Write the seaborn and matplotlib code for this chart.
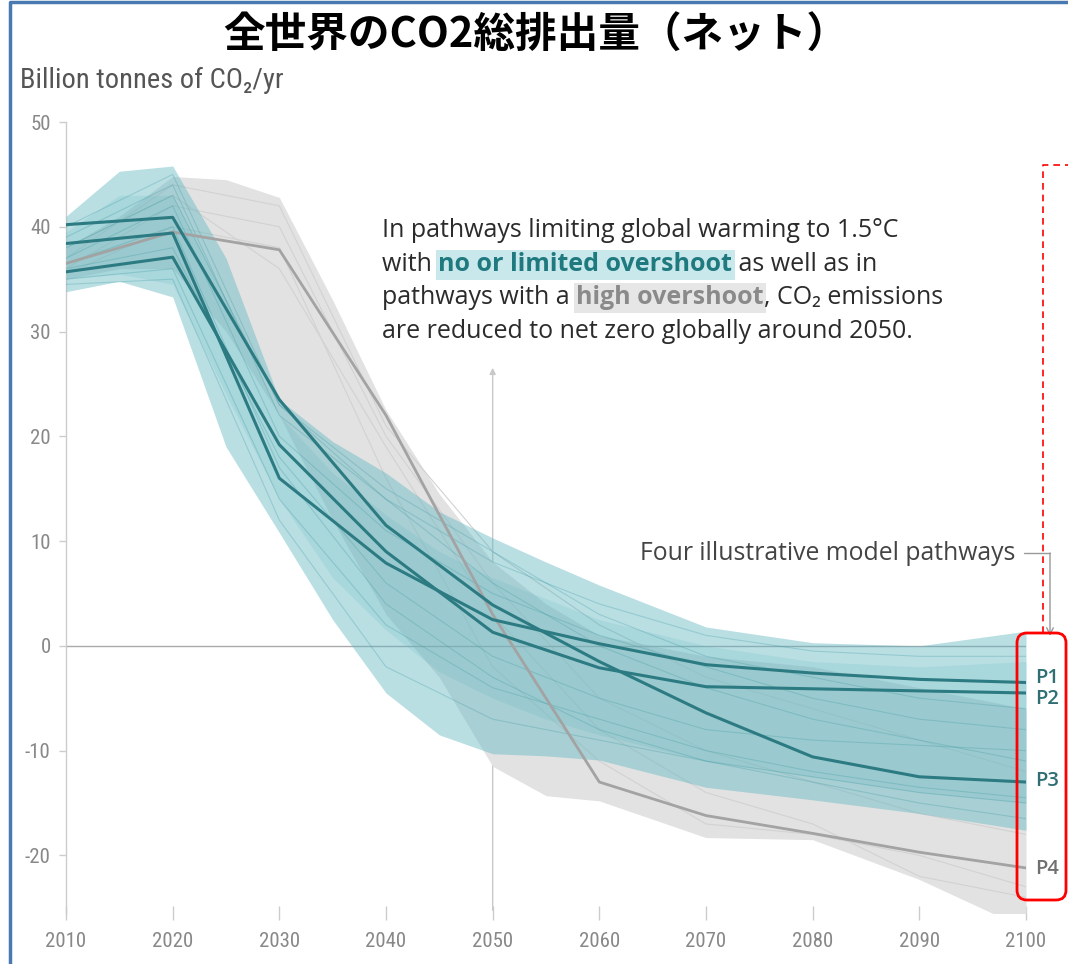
import numpy as np
import pandas as pd
import matplotlib
matplotlib.use('Agg')
import matplotlib.pyplot as plt
import seaborn as sns
from matplotlib.patches import FancyBboxPatch
from matplotlib.lines import Line2D
from matplotlib.transforms import IdentityTransform

# ---- data (billion tonnes CO2 / yr) ----
band_years = [2010, 2015, 2020, 2025, 2030, 2035, 2040, 2045, 2050, 2055, 2060, 2070, 2080, 2090, 2100]
# no or limited overshoot range (teal)
teal_hi = [41.0, 45.3, 45.8, 37.0, 23.5, 19.5, 16.5, 12.8, 10.3, 8.0, 5.8, 1.8, 0.3, 0.0, 1.4]
teal_lo = [33.8, 34.8, 33.3, 19.0, 10.8, 2.5, -4.5, -8.5, -10.3, -10.5, -10.9, -13.5, -14.7, -16.0, -17.6]
teal_core_hi = [39.5, 43.0, 43.0, 33.0, 22.0, 16.5, 12.5, 9.0, 6.5, 4.5, 2.5, 0.0, -1.5, -2.0, -1.5]
teal_core_lo = [35.0, 35.5, 34.5, 24.0, 14.0, 6.5, 1.5, -2.5, -5.0, -7.0, -8.5, -11.0, -12.5, -14.0, -15.0]
# high overshoot range (grey)
grey_hi = [38.0, 41.0, 44.8, 44.5, 42.8, 33.0, 22.5, 14.5, 8.0, 4.0, 1.0, -1.0, -2.0, -4.0, -6.0]
grey_lo = [35.0, 36.0, 36.0, 30.0, 22.0, 12.0, 3.0, -3.0, -11.5, -14.3, -14.8, -18.3, -18.5, -22.3, -27.0]

years = [2010, 2020, 2030, 2040, 2050, 2060, 2070, 2080, 2090, 2100]
p1 = [38.4, 39.4, 16.0, 7.9, 2.5, 0.2, -1.8, -2.6, -3.2, -3.5]
p2 = [35.7, 37.1, 19.2, 9.0, 1.3, -2.1, -3.9, -4.1, -4.3, -4.5]
p3 = [40.2, 40.9, 23.5, 11.5, 3.9, -1.5, -6.4, -10.6, -12.5, -13.0]
p4 = [36.5, 39.5, 37.8, 22.0, 3.0, -13.0, -16.2, -17.9, -19.7, -21.2]

# faint individual scenarios inside the ranges
teal_runs = [
    [39.0, 44.0, 22.0, 14.0, 8.0, 4.0, 1.0, -0.5, -1.0, -1.0],
    [37.0, 42.0, 20.0, 11.0, 5.0, 1.0, -2.0, -5.0, -7.0, -8.0],
    [36.0, 38.0, 18.0, 6.0, -1.0, -5.0, -8.0, -9.0, -9.5, -10.0],
    [34.5, 35.0, 12.0, -2.0, -7.0, -9.0, -11.0, -12.5, -14.0, -15.0],
    [38.0, 43.0, 23.0, 14.0, 6.0, 0.0, -4.0, -7.0, -9.0, -11.0],
    [35.0, 36.0, 14.0, 2.0, -4.0, -7.0, -10.0, -12.0, -13.5, -14.5],
    [40.0, 45.0, 23.0, 15.0, 9.0, 3.0, -1.0, -3.0, -5.0, -6.0],
    [36.5, 40.0, 17.0, 4.0, -3.0, -8.0, -11.0, -13.0, -15.0, -16.5],
]
grey_runs = [
    [37.0, 44.0, 42.0, 21.0, 9.0, 2.0, -3.0, -6.0, -9.0, -12.0],
    [36.0, 42.0, 40.0, 20.0, 6.0, -5.0, -10.0, -13.0, -16.0, -18.0],
    [38.0, 43.0, 36.0, 19.0, 3.0, -8.0, -14.0, -17.0, -22.0, -24.0],
    [35.5, 40.0, 38.0, 16.0, -2.0, -11.0, -17.0, -18.0, -20.0, -23.0],
]

x_ticks = [2010, 2020, 2030, 2040, 2050, 2060, 2070, 2080, 2090, 2100]
y_ticks = [50, 40, 30, 20, 10, 0, -10, -20]

teal_c = '#5db6c0'
path_c = '#2d7b82'
grey_line_c = '#a3a3a3'

sns.set_theme(style='white')
plt.rcParams['font.family'] = ['Open Sans', 'DejaVu Sans']
plt.rcParams['axes.unicode_minus'] = False
narrow = ['Liberation Sans Narrow', 'Roboto Condensed', 'DejaVu Sans']
cjk = ['Noto Sans CJK JP', 'DejaVu Sans']

W, H = 1068, 964
fig = plt.figure(figsize=(W / 100, H / 100), dpi=100)
ax = fig.add_axes([66 / W, 1 - 913 / H, 960 / W, 791 / H])

# ranges
ax.fill_between(band_years, grey_lo, grey_hi, color='#e2e2e2', lw=0, zorder=1)
for r in grey_runs:
    sns.lineplot(x=years, y=r, ax=ax, color='#d2d2d2', lw=0.8, zorder=2)
ax.fill_between(band_years, teal_lo, teal_hi, color=teal_c, alpha=0.43, lw=0, zorder=3)
ax.fill_between(band_years, teal_core_lo, teal_core_hi, color=teal_c, alpha=0.18, lw=0, zorder=3)
for r in teal_runs:
    sns.lineplot(x=years, y=r, ax=ax, color='#3f9aa4', alpha=0.3, lw=0.8, zorder=4)

# reference lines
ax.axhline(0, color='#aaaaaa', lw=1, zorder=2.5)
ax.annotate('', xy=(2050, 26.8), xytext=(2050, -25.5),
            arrowprops=dict(arrowstyle='-|>', color='#c8c8c8', lw=1, mutation_scale=9), zorder=0)

# illustrative pathways
paths = pd.DataFrame({
    'year': years * 4,
    'value': p1 + p2 + p3 + p4,
    'pathway': ['P1'] * 10 + ['P2'] * 10 + ['P3'] * 10 + ['P4'] * 10,
})
sns.lineplot(data=paths[paths.pathway == 'P4'], x='year', y='value', color=grey_line_c, lw=2, ax=ax, zorder=5)
sns.lineplot(data=paths[paths.pathway != 'P4'], x='year', y='value', hue='pathway',
             palette={'P1': path_c, 'P2': path_c, 'P3': path_c}, lw=2.2, legend=False, ax=ax, zorder=6)

lab_off = {'P1': 3.5, 'P2': -4, 'P3': 1, 'P4': -1}
for name, vals in [('P1', p1), ('P2', p2), ('P3', p3), ('P4', p4)]:
    ax.annotate(name, xy=(2100, vals[-1]), xytext=(6.5, lab_off[name]), textcoords='offset points',
                va='center', ha='left', fontsize=14.5, fontweight='semibold', annotation_clip=False,
                color='#707070' if name == 'P4' else '#2f6f74')

# axes styling
ax.set_xlim(2010, 2100)
ax.set_ylim(-25.5, 50)
ax.set_xticks(x_ticks)
ax.set_yticks(y_ticks)
ax.set_xticklabels([str(t) for t in x_ticks], family=narrow, fontstretch='condensed')
ax.set_yticklabels([str(t) for t in y_ticks], family=narrow, fontstretch='condensed')
ax.tick_params(axis='x', bottom=True, direction='inout', length=10, width=1, color='#cccccc',
               labelsize=15, labelcolor='#888888', pad=9)
ax.tick_params(axis='y', left=True, direction='out', length=5, width=1, color='#cccccc',
               labelsize=15, labelcolor='#888888', pad=6)
ax.set_xlabel('')
ax.set_ylabel('')
for s in ['top', 'right', 'bottom']:
    ax.spines[s].set_visible(False)
ax.spines['left'].set_color('#cccccc')
ax.spines['left'].set_linewidth(1)
ax.patch.set_alpha(0)

# texts
fig.text(536 / W, 1 - 36 / H, '全世界のCO2総排出量（ネット）', ha='center', va='center',
         fontsize=30, fontweight='bold', family=cjk, color='black')
fig.text(20 / W, 1 - 80 / H, 'Billion tonnes of CO₂/yr', ha='left', va='center',
         fontsize=20.5, family=narrow, fontstretch='condensed', color='#555555')

renderer = fig.canvas.get_renderer()
dark = '#2b2b2b'
lines = [
    [('In pathways limiting global warming to 1.5°C', dark, 'normal', None)],
    [('with ', dark, 'normal', None), ('no or limited overshoot', '#1f7a80', 'bold', '#c8e8ec'),
     (' as well as in', dark, 'normal', None)],
    [('pathways with a ', dark, 'normal', None), ('high overshoot', '#8a8a8a', 'bold', '#e6e6e6'),
     (', CO₂ emissions', dark, 'normal', None)],
    [('are reduced to net zero globally around 2050.', dark, 'normal', None)],
]
baselines = [237, 271, 304, 338]
for segs, yb in zip(lines, baselines):
    x = 382
    for txt, col, wt, hl in segs:
        kw = {}
        if hl:
            kw['bbox'] = dict(boxstyle='square,pad=0.1', fc=hl, ec='none')
        t = fig.text(x / W, 1 - yb / H, txt, ha='left', va='baseline', fontsize=18,
                     color=col, fontweight=wt, **kw)
        x += t.get_window_extent(renderer).width

fig.text(1015 / W, 1 - 553 / H, 'Four illustrative model pathways', ha='right', va='center',
         fontsize=17.8, color='#444444')

# connector from the label down to the pathway names
fig.add_artist(Line2D([1024, 1050], [H - 553, H - 553], transform=IdentityTransform(), color='#999999', lw=1))
ax.annotate('', xy=(1050, H - 636), xytext=(1050, H - 553), xycoords='figure pixels',
            textcoords='figure pixels', annotation_clip=False,
            arrowprops=dict(arrowstyle='->', color='#999999', lw=1, shrinkA=0, shrinkB=0))

# red highlight box and dashed guide
fig.add_artist(FancyBboxPatch((1017, H - 900), 49, 267, boxstyle='round,pad=0,rounding_size=10',
                              transform=IdentityTransform(), fc='none', ec='#ff0000', lw=2))
fig.add_artist(Line2D([1043, 1043, 1068], [H - 633, H - 165, H - 165], transform=IdentityTransform(),
                      color='#ff0000', lw=1.2, ls=(0, (4, 3))))

# blue frame of the slide
fig.add_artist(Line2D([10, 10, 1068], [0, H - 2, H - 2], transform=IdentityTransform(),
                      color='#4a78b0', lw=2.5))

fig.savefig('out.png', dpi=100)
